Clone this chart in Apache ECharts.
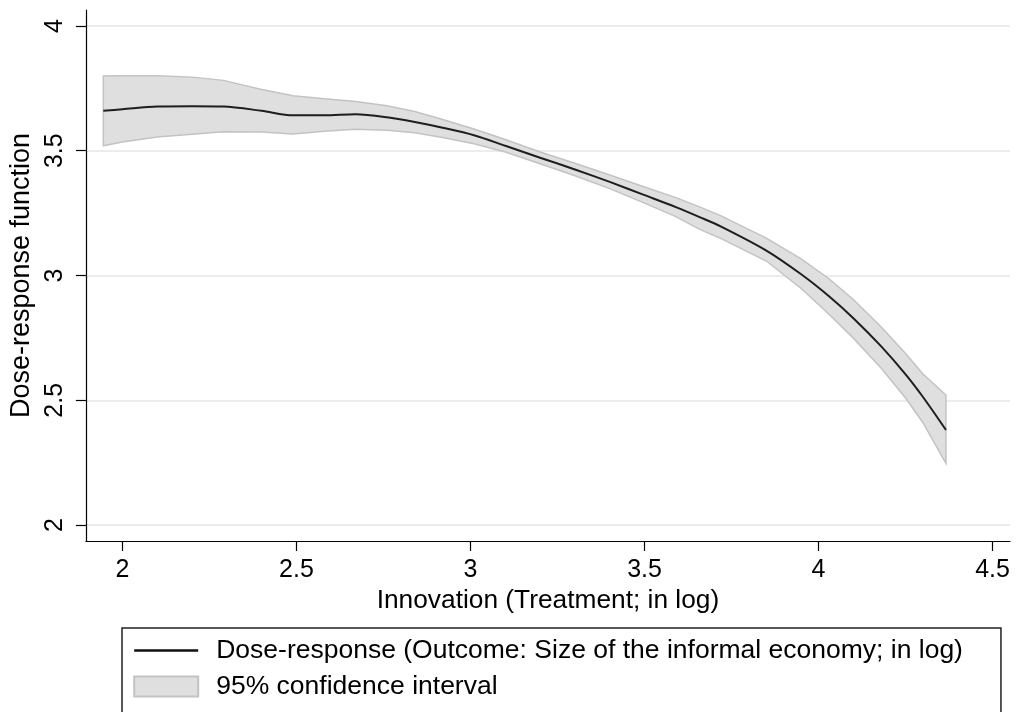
<!DOCTYPE html>
<html>
<head>
<meta charset="utf-8">
<script src="https://cdn.jsdelivr.net/npm/echarts@6/dist/echarts.min.js"></script>
<style>
html,body{margin:0;padding:0;background:#fff;}
#chart{width:1017px;height:712px;}
</style>
</head>
<body>
<div id="chart"></div>
<script>
// Treatment values (x, log innovation)
const xVals = [1.945, 2.0, 2.1, 2.2, 2.29, 2.4, 2.49, 2.58, 2.67, 2.76, 2.84, 2.92, 3.01, 3.1, 3.2, 3.3, 3.4, 3.5, 3.59, 3.66, 3.72, 3.85, 3.95, 4.03, 4.1, 4.18, 4.25, 4.3, 4.366];
// Dose-response estimate
const doseResponse = [3.660, 3.666, 3.677, 3.678, 3.677, 3.660, 3.642, 3.642, 3.646, 3.634, 3.615, 3.592, 3.562, 3.52, 3.472, 3.425, 3.375, 3.322, 3.274, 3.233, 3.196, 3.100, 3.005, 2.917, 2.829, 2.716, 2.604, 2.513, 2.381];
// 95% confidence interval bounds
const upperCI = [3.80, 3.801, 3.801, 3.795, 3.782, 3.745, 3.72, 3.708, 3.697, 3.68, 3.657, 3.625, 3.587, 3.545, 3.495, 3.45, 3.403, 3.355, 3.312, 3.274, 3.239, 3.150, 3.067, 2.987, 2.904, 2.794, 2.687, 2.605, 2.521];
const lowerCI = [3.52, 3.535, 3.555, 3.566, 3.576, 3.575, 3.567, 3.578, 3.586, 3.582, 3.572, 3.553, 3.528, 3.495, 3.448, 3.40, 3.348, 3.29, 3.236, 3.184, 3.148, 3.058, 2.948, 2.845, 2.749, 2.628, 2.509, 2.41, 2.247];
// Tick labels
const xTicks = [2, 2.5, 3, 3.5, 4, 4.5];
const yTicks = [2, 2.5, 3, 3.5, 4];

const lineName = 'Dose-response (Outcome: Size of the informal economy; in log)';
const ciName = '95% confidence interval';
const xTitle = 'Innovation (Treatment; in log)';
const yTitle = 'Dose-response function';

const FONT = '"Liberation Sans", Arial, Helvetica, sans-serif';
const chart = echarts.init(document.getElementById('chart'), null, {renderer: 'canvas'});

const option = {
  animation: false,
  backgroundColor: '#ffffff',
  grid: {left: 83, right: 7, top: 10, bottom: 171},
  xAxis: {
    type: 'value',
    min: 1.895, max: 4.55,
    name: xTitle,
    nameLocation: 'middle',
    nameGap: 42,
    nameTextStyle: {fontFamily: FONT, fontSize: 26.3, color: '#000'},
    axisLine: {show: true, onZero: false, lineStyle: {color: '#000', width: 1.2}},
    axisTick: {show: true, length: 10, customValues: xTicks, lineStyle: {color: '#000', width: 1.2}},
    axisLabel: {customValues: xTicks, fontFamily: FONT, fontSize: 25, color: '#000', margin: 17},
    splitLine: {show: false}
  },
  yAxis: {
    type: 'value',
    min: 1.936, max: 4.064,
    name: yTitle,
    nameLocation: 'middle',
    nameGap: 38,
    nameRotate: 90,
    nameTextStyle: {fontFamily: FONT, fontSize: 27, color: '#000'},
    axisLine: {show: true, onZero: false, lineStyle: {color: '#000', width: 1.2}},
    axisTick: {show: true, length: 10, customValues: yTicks, lineStyle: {color: '#000', width: 1.2}},
    axisLabel: {customValues: yTicks, rotate: 90, fontFamily: FONT, fontSize: 25, color: '#000', margin: 18},
    splitLine: {show: true, lineStyle: {color: '#e6e6e6', width: 1.5}}
  },
  legend: {
    orient: 'vertical',
    left: 122, top: 628,
    height: 200,
    padding: [9, 38, 30, 11],
    itemWidth: 64, itemHeight: 20, itemGap: 9,
    borderColor: '#222', borderWidth: 1.5,
    lineStyle: {color: '#111', width: 2.4},
    textStyle: {fontFamily: FONT, fontSize: 26.5, color: '#000', padding: [0, 0, 0, 13]},
    data: [
      {name: lineName, itemStyle: {color: 'rgba(0,0,0,0)', borderWidth: 0}},
      {name: ciName, icon: 'rect', itemStyle: {color: '#dfdfdf', borderColor: '#c3c3c3', borderWidth: 2}}
    ]
  },
  series: [
    {
      name: ciName,
      type: 'custom',
      data: xVals.map((x, i) => [x, lowerCI[i], upperCI[i]]),
      encode: {x: 0, y: [1, 2]},
      itemStyle: {color: '#dfdfdf'},
      renderItem: function (params, api) {
        if (params.dataIndex !== 0) return null;
        const pts = [];
        for (let i = 0; i < xVals.length; i++) pts.push(api.coord([xVals[i], upperCI[i]]));
        for (let i = xVals.length - 1; i >= 0; i--) pts.push(api.coord([xVals[i], lowerCI[i]]));
        return {type: 'polygon', shape: {points: pts}, style: {fill: '#dfdfdf', stroke: '#c3c3c3', lineWidth: 1.5}};
      },
      z: 2
    },
    {
      name: lineName,
      type: 'line',
      data: xVals.map((x, i) => [x, doseResponse[i]]),
      symbol: 'none',
      smooth: 0.3,
      lineStyle: {color: '#1e1e1e', width: 2},
      itemStyle: {color: '#1e1e1e'},
      z: 3
    }
  ]
};
chart.setOption(option);
</script>
</body>
</html>
